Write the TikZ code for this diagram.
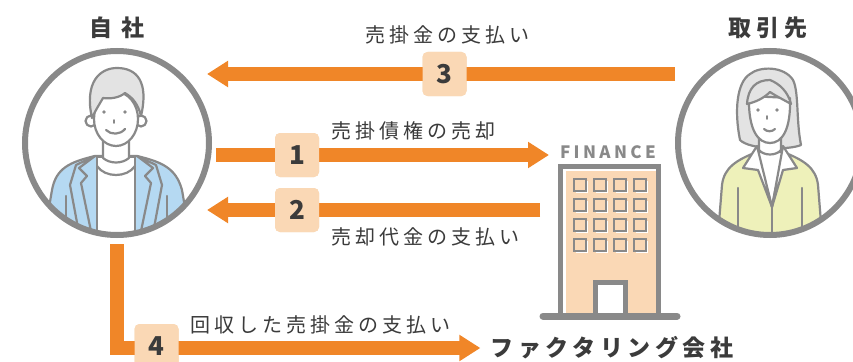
\documentclass[tikz,border=0pt]{standalone}
\usepackage{fontspec}
\usepackage{xcolor}
\usetikzlibrary{arrows.meta}

\setmainfont{Noto Sans CJK JP}
\newfontfamily\jpwide[LetterSpace=20]{Noto Sans CJK JP}

\definecolor{flowor}{HTML}{F08628}
\definecolor{peach}{HTML}{FAD8B5}
\definecolor{ringgray}{HTML}{898989}
\definecolor{inkdark}{HTML}{3B3B3B}
\definecolor{jacketblue}{HTML}{B5D9F2}
\definecolor{jacketyel}{HTML}{EEF1BA}
\definecolor{hairgray}{HTML}{E3E3E3}

\begin{document}
\begin{tikzpicture}[x=1pt, y=-1pt,
    person/.style={circle, draw=ringgray, line width=6pt, minimum size=184pt, inner sep=0pt},
    flow/.style={flowor, line width=14pt, -{Triangle[length=21pt, width=25pt]}},
    badge/.style={fill=peach, rounded corners=5pt, minimum size=44pt, inner sep=0pt,
        text=inkdark, font=\fontsize{26}{26}\selectfont\bfseries},
    lbl/.style={text=inkdark, inner sep=0pt, font=\fontsize{20}{20}\selectfont\jpwide},
    ttl/.style={text=inkdark, inner sep=0pt, font=\fontsize{23}{23}\selectfont\jpwide\bfseries},
    fig/.style={draw=ringgray, line width=2.2pt, line join=round, line cap=round}]

    \useasboundingbox (0,0) rectangle (853,361);
    \fill[white] (0,0) rectangle (853,361);

    % 1. Orang di kiri (jisha)
    \begin{scope}
        \clip (117,143) circle (92);
        \draw[fig, fill=jacketblue] (40,260) -- (52,190) .. controls (56,168) and (70,162) .. (95,156)
            -- (137,156) .. controls (162,162) and (176,168) .. (182,190) -- (194,260) -- cycle;
        \draw[fig, fill=white] (97,157) -- (97,260) -- (135,260) -- (135,157) -- cycle;
        \draw[fig] (97,166) .. controls (105,178) and (127,178) .. (135,166);
        \draw[fig, fill=jacketblue] (95,156) -- (79,168) -- (87,176) -- (81,183) -- (97,260) -- (84,260) -- (70,185) -- (76,165) -- cycle;
        \draw[fig, fill=jacketblue] (137,156) -- (153,168) -- (145,176) -- (151,183) -- (135,260) -- (148,260) -- (162,185) -- (156,165) -- cycle;
        \draw[fig] (66,196) -- (66,260);
        \draw[fig] (167,196) -- (167,260);
        \draw[fig, fill=white] (103,136) -- (103,158) .. controls (110,164) and (122,164) .. (129,158) -- (129,136) -- cycle;
        \draw[fig, fill=white] (91,121) circle (5.5);
        \draw[fig, fill=white] (141,121) circle (5.5);
        \draw[fig, fill=white] (116,119) ellipse (22 and 27);
        \draw[fig, fill=hairgray] (92,118) .. controls (84,82) and (100,68) .. (117,68)
            .. controls (137,68) and (149,82) .. (141,116)
            .. controls (138,104) and (133,98) .. (125,93)
            .. controls (119,98) and (110,99) .. (103,98)
            .. controls (99,105) and (95,111) .. (92,118) -- cycle;
        \fill[ringgray] (104,112) circle (1.9) (125,112) circle (1.9);
        \draw[fig, line width=1.6pt] (114,120) -- (114,123);
        \draw[fig] (106,130) .. controls (111,135) and (120,135) .. (125,129);
    \end{scope}
    \node[person] (jisha) at (117,143) {};

    % 2. Orang di kanan (torihiki)
    \begin{scope}
        \clip (770,143) circle (92);
        \draw[fig, fill=hairgray] (740,140) .. controls (734,110) and (737,82) .. (750,74)
            .. controls (760,66) and (784,66) .. (793,80)
            .. controls (799,92) and (796,120) .. (801,145) .. controls (790,150) and (750,150) .. (740,140) -- cycle;
        \draw[fig, fill=jacketyel] (716,260) -- (722,185) .. controls (724,168) and (736,160) .. (757,152)
            -- (783,152) .. controls (804,160) and (816,168) .. (818,185) -- (824,260) -- cycle;
        \draw[fig, fill=white] (757,152) -- (772,207) -- (783,152) -- cycle;
        \draw[fig, fill=white] (757,146) -- (743,168) -- (758,170) -- (772,207) -- cycle;
        \draw[fig, fill=white] (783,146) -- (797,168) -- (783,170) -- (772,207) -- cycle;
        \draw[fig] (772,207) -- (772,260);
        \draw[fig] (738,188) -- (738,260);
        \draw[fig] (802,188) -- (802,260);
        \draw[fig, fill=white] (759,132) -- (759,150) .. controls (764,156) and (776,156) .. (781,150) -- (781,132) -- cycle;
        \draw[fig, fill=white] (749,96) .. controls (748,130) and (758,143) .. (770,143)
            .. controls (782,143) and (791,130) .. (790,98) -- cycle;
        \draw[fig, fill=hairgray] (747,104) .. controls (748,88) and (756,80) .. (770,80)
            .. controls (780,84) and (788,92) .. (791,104) .. controls (784,100) and (776,96) .. (770,92)
            .. controls (764,98) and (756,102) .. (747,104) -- cycle;
        \fill[ringgray] (758,110) circle (1.8) (777,110) circle (1.8);
        \draw[fig, line width=1.6pt] (767,116) -- (767,119);
        \draw[fig] (764,129) .. controls (767,132) and (772,132) .. (775,129);
    \end{scope}
    \node[person] (torihiki) at (770,143) {};

    % 3. Judul
    \node[ttl] (jishattl) at (117,28) {自 社};
    \node[ttl] (torittl) at (768,28) {取引先};

    % 4. Gedung FINANCE
    \node[draw=ringgray, line width=5pt, fill=white, minimum width=98pt, minimum height=150pt] (bldg) at (609,241) {};
    \fill[peach] (566,171) rectangle (656,314);
    \foreach \c in {0,...,3}{
        \foreach \r in {0,...,3}{
            \fill[white] (576+20*\c,181+20*\r) rectangle +(12,12);
            \draw[ringgray, line width=2.6pt, fill=peach] (574+20*\c,179+20*\r) rectangle +(12,12);
        }
    }
    \draw[ringgray, line width=5pt, fill=white] (595,316) -- (595,282) -- (625,282) -- (625,316);
    \draw[ringgray, line width=7pt, line cap=round] (543,316) -- (677,316);
    \node[text=ringgray, inner sep=0pt, font=\fontsize{17}{17}\selectfont\jpwide\bfseries] (fintxt) at (608,152) {FINANCE};

    % 5. Badge nomor
    \node[badge] (badge3) at (444.5,74) {3};
    \node[badge] (badge1) at (297,155) {1};
    \node[badge] (badge2) at (297,210) {2};
    \node[badge] (badge4) at (156.5,346) {4};

    % 6. Panah alur
    \coordinate (jtip) at ([xshift=-5pt]jisha.east);
    \coordinate (jout) at ([xshift=4pt]jisha.east);
    \node[ttl] (firm) at (612,348) {ファクタリング会社};
    \draw[flow] (torihiki.west |- badge3) -- (jtip |- badge3);
    \draw[flow, shorten >=8.5pt] (jout |- badge1) -- (bldg.west |- badge1);
    \draw[flow, shorten <=17.5pt] (bldg.west |- badge2) -- (jtip |- badge2);
    \draw[flow, line join=miter, shorten <=6pt, shorten >=10pt] (jisha.south) |- (firm.west);

    % badge di atas panah
    \node[badge] at (badge3) {3};
    \node[badge] at (badge1) {1};
    \node[badge] at (badge2) {2};
    \node[badge] at (badge4) {4};

    % 7. Keterangan panah
    \node[lbl] (lbl3) at (447,35) {売掛金の支払い};
    \node[lbl] (lbl1) at (413,131) {売掛債権の売却};
    \node[lbl] (lbl2) at (425,237) {売却代金の支払い};
    \node[lbl] (lbl4) at (320,325) {回収した売掛金の支払い};
\end{tikzpicture}
\end{document}
